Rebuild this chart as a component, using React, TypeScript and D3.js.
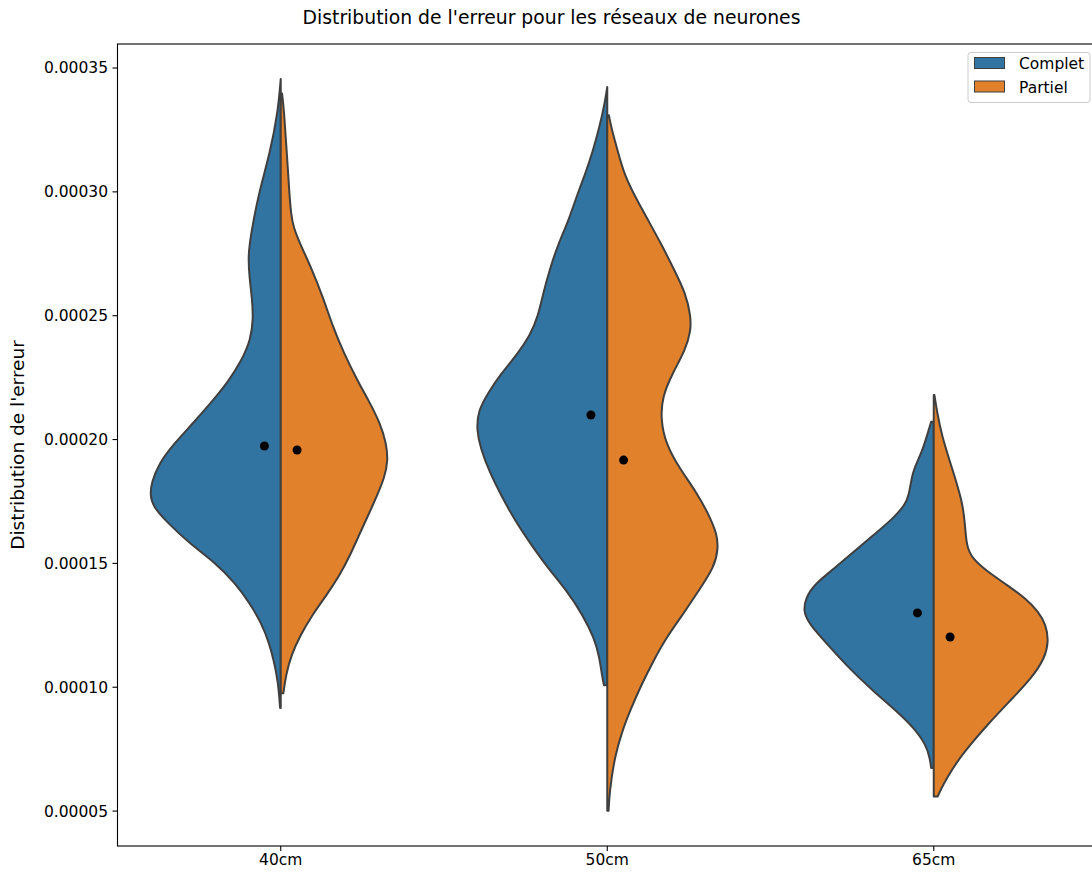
import React from "react";
import * as d3 from "d3";

// Error values are expressed in units of 1e-5; density is relative half-width (1 = widest violin half)
const categories = ["40cm", "50cm", "65cm"];
const hues = ["Complet", "Partiel"];
const hueColors = ["#3274a1", "#e1812c"];

const complet40: [number, number][] = [
  [34.56, 0], [33.29, 0.02], [31.61, 0.08], [29.93, 0.17], [28.24, 0.23], [27.4, 0.25],
  [26.56, 0.24], [25.72, 0.22], [24.87, 0.21], [24.03, 0.23], [23.19, 0.3], [22.35, 0.4],
  [21.51, 0.53], [20.67, 0.67], [19.82, 0.82], [19.06, 0.93], [18.26, 0.99], [17.78, 1.0],
  [17.3, 0.98], [16.66, 0.87], [15.81, 0.7], [15.02, 0.5], [14.21, 0.35], [13.41, 0.24],
  [12.61, 0.15], [11.81, 0.09], [11.01, 0.05], [10.2, 0.02], [9.16, 0.005],
];
const partiel40: [number, number][] = [
  [33.97, 0.01], [33.29, 0.025], [31.61, 0.046], [29.93, 0.066], [29.09, 0.079], [28.58, 0.097],
  [27.91, 0.147], [26.9, 0.237], [25.72, 0.325], [24.54, 0.4], [23.53, 0.48], [22.35, 0.59],
  [21.51, 0.68], [20.67, 0.76], [19.82, 0.81], [19.16, 0.82], [18.52, 0.8], [17.4, 0.71],
  [16.27, 0.61], [15.31, 0.53], [14.51, 0.45], [13.71, 0.35], [12.91, 0.24], [12.1, 0.15],
  [11.3, 0.08], [10.5, 0.04], [9.76, 0.02],
];
const complet50: [number, number][] = [
  [34.23, 0], [33.56, 0.02], [32.61, 0.06], [31.65, 0.11], [30.7, 0.17], [29.74, 0.24],
  [28.79, 0.3], [27.83, 0.38], [26.88, 0.44], [25.92, 0.49], [24.97, 0.53], [24.21, 0.59],
  [23.44, 0.69], [22.68, 0.81], [21.91, 0.91], [21.15, 0.99], [20.39, 1.0], [19.63, 0.97],
  [18.67, 0.9], [17.72, 0.81], [16.76, 0.71], [15.81, 0.59], [14.85, 0.46], [13.9, 0.31],
  [12.94, 0.19], [11.99, 0.1], [11.22, 0.06], [10.46, 0.04], [10.08, 0.025],
];
const partiel50: [number, number][] = [
  [33.09, 0.013], [32.61, 0.03], [31.65, 0.08], [30.7, 0.13], [29.74, 0.22], [28.79, 0.32],
  [27.83, 0.42], [26.88, 0.51], [25.92, 0.6], [24.97, 0.64], [24.4, 0.64], [23.63, 0.6],
  [22.68, 0.5], [21.72, 0.42], [20.77, 0.41], [19.81, 0.45], [18.86, 0.55], [17.9, 0.68],
  [16.95, 0.78], [16.18, 0.84], [15.61, 0.85], [14.85, 0.82], [13.9, 0.7], [12.94, 0.58],
  [11.99, 0.45], [11.03, 0.35], [10.08, 0.26], [9.12, 0.18], [8.17, 0.11], [7.21, 0.06],
  [6.26, 0.03], [5.49, 0.015], [5.01, 0.01],
];
const complet65: [number, number][] = [
  [20.72, 0.02], [20.18, 0.05], [19.51, 0.09], [18.84, 0.15], [18.43, 0.17], [17.76, 0.19],
  [17.36, 0.22], [16.82, 0.31], [16.15, 0.46], [15.48, 0.61], [14.8, 0.76], [14.13, 0.92],
  [13.6, 0.98], [13.06, 1.0], [12.52, 0.95], [11.71, 0.81], [10.77, 0.65], [9.83, 0.46],
  [9.02, 0.28], [8.35, 0.15], [7.68, 0.06], [7.14, 0.03], [6.74, 0.02],
];
const partiel65: [number, number][] = [
  [21.8, 0.005], [21.13, 0.025], [20.18, 0.06], [18.84, 0.14], [17.49, 0.22], [16.55, 0.24],
  [15.74, 0.25], [15.21, 0.29], [14.67, 0.41], [14.13, 0.56], [13.6, 0.7], [13.06, 0.8],
  [12.52, 0.86], [11.85, 0.88], [11.17, 0.85], [10.37, 0.75], [9.43, 0.58], [8.48, 0.41],
  [7.68, 0.28], [7.01, 0.18], [6.33, 0.1], [5.93, 0.06], [5.59, 0.03],
];
const completShapes = [complet40, complet50, complet65];
const partielShapes = [partiel40, partiel50, partiel65];

const completMeans = [19.74, 20.99, 13.0];
const partielMeans = [19.58, 19.17, 12.03];

const yTicks = [5, 10, 15, 20, 25, 30, 35];

const title = "Distribution de l'erreur pour les réseaux de neurones";
const yLabel = "Distribution de l'erreur";

const W = 1092;
const H = 874;
const E5 = 1e-5;

export default function App() {
  const left = 117.5;
  const right = 1097;
  const top = 44;
  const bottom = 846;

  const x = d3.scalePoint<string>().domain(categories).range([left, right]).padding(0.5);
  const step = x.step();
  const halfMax = step * 0.4;
  const y = d3.scaleLinear().domain([3.59 * E5, 35.97 * E5]).range([bottom, top]);

  const fmt = d3.format(".5f");
  const font = "DejaVu Sans, sans-serif";

  const halfPath = (shape: [number, number][], cx: number, side: number) => {
    const pts: [number, number][] = shape.map(([v, d]) => [cx + side * d * halfMax, y(v * E5)]);
    const line = d3.line().curve(d3.curveBasis);
    const curve = line(pts) || "";
    const vTop = shape[0][0] * E5;
    const vBot = shape[shape.length - 1][0] * E5;
    return `M${cx},${y(vTop)}L${curve.slice(1)}L${cx},${y(vBot)}Z`;
  };

  return (
    <svg
      width={W}
      height={H}
      style={{ position: "absolute", left: 0, top: 0, display: "block", background: "#fff" }}
      fontFamily={font}
    >
      <rect x={0} y={0} width={W} height={H} fill="#fff" />
      {/* violins */}
      {categories.map((c, i) => {
        const cx = x(c)!;
        return (
          <g key={c}>
            <path
              d={halfPath(completShapes[i], cx, -1)}
              fill={hueColors[0]}
              stroke="#3f3f3f"
              strokeWidth={2}
              strokeLinejoin="round"
            />
            <path
              d={halfPath(partielShapes[i], cx, 1)}
              fill={hueColors[1]}
              stroke="#3f3f3f"
              strokeWidth={2}
              strokeLinejoin="round"
            />
          </g>
        );
      })}
      {/* mean points */}
      {categories.map((c, i) => {
        const cx = x(c)!;
        const dodge = step * 0.05;
        return (
          <g key={"m" + c}>
            <circle cx={cx - dodge} cy={y(completMeans[i] * E5)} r={4.5} fill="#000" />
            <circle cx={cx + dodge} cy={y(partielMeans[i] * E5)} r={4.5} fill="#000" />
          </g>
        );
      })}
      {/* axes frame */}
      <rect x={left} y={top} width={right - left} height={bottom - top} fill="none" stroke="#000" strokeWidth={1.1} />
      {/* y ticks */}
      {yTicks.map((t) => {
        const yy = y(t * E5);
        return (
          <g key={"y" + t}>
            <line x1={left - 5} x2={left} y1={yy} y2={yy} stroke="#000" strokeWidth={1.1} />
            <text x={left - 9.5} y={yy} dy="0.35em" textAnchor="end" fontSize={15.5} fill="#000">
              {fmt(t * E5)}
            </text>
          </g>
        );
      })}
      {/* x ticks */}
      {categories.map((c) => {
        const xx = x(c)!;
        return (
          <g key={"x" + c}>
            <line x1={xx} x2={xx} y1={bottom} y2={bottom + 5} stroke="#000" strokeWidth={1.1} />
            <text x={xx} y={bottom + 14} dy="0.35em" textAnchor="middle" fontSize={15.5} fill="#000">
              {c}
            </text>
          </g>
        );
      })}
      {/* y label */}
      <text
        transform={`translate(24,${(top + bottom) / 2}) rotate(-90)`}
        textAnchor="middle"
        fontSize={18.5}
        fill="#000"
      >
        {yLabel}
      </text>
      {/* title */}
      <text x={551.5} y={17} dy="0.35em" textAnchor="middle" fontSize={18.8} fill="#000">
        {title}
      </text>
      {/* legend */}
      <g>
        <rect x={968} y={52.5} width={122} height={50} rx={3} fill="#fff" fillOpacity={0.8} stroke="#cccccc" strokeWidth={1} />
        {hues.map((h, i) => (
          <g key={h} transform={`translate(0,${i * 23.5})`}>
            <rect x={974.5} y={57.5} width={30} height={11} fill={hueColors[i]} stroke="#3f3f3f" strokeWidth={1} />
            <text x={1019} y={64} dy="0.35em" fontSize={15.5} fill="#000">
              {h}
            </text>
          </g>
        ))}
      </g>
    </svg>
  );
}
